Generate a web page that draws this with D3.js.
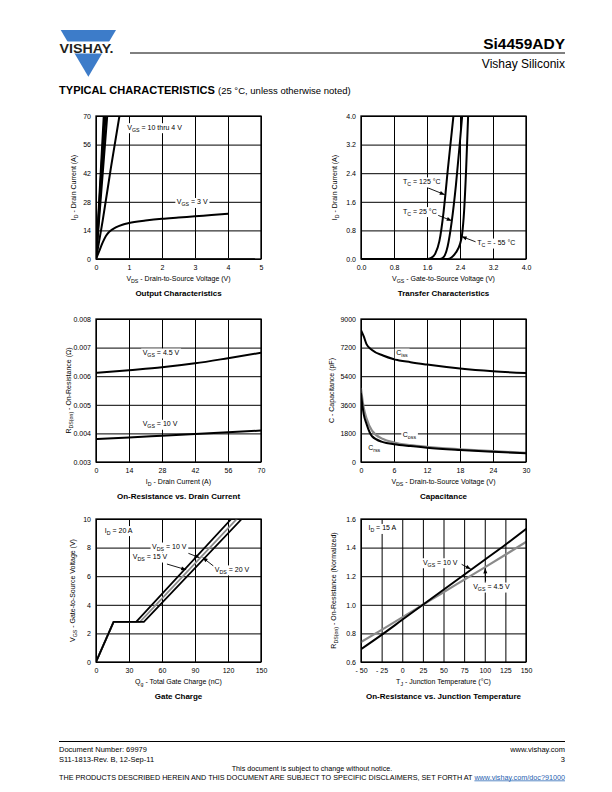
<!DOCTYPE html>
<html><head><meta charset="utf-8">
<script src="https://cdn.jsdelivr.net/npm/d3@7"></script>
<style>body{margin:0;background:#fff} svg text{font-family:"Liberation Sans",Arial,Helvetica,sans-serif}</style>
</head><body><svg id="page" width="612" height="792"></svg>
<script>
// ---------- DATA ----------
// Output characteristics (VDS V, ID A)
const outVgs10 = [[0,0],[0.235,70]];
const outVgs6  = [[0,0],[0.26,70]];
const outVgs5  = [[0,0],[0.29,70]];
const outVgs45 = [[0,0],[0.34,70]];
const outVgs4  = [[0,0],[0.2,18.5],[0.45,44.5],[0.71,70]];
const outVgs3  = [[0,0],[0.1,4],[0.2,8],[0.3,11.3],[0.4,13.3],[0.6,15.5],[0.8,16.8],[1,17.6],[1.5,18.8],[2,19.7],[2.5,20.3],[3,20.9],[3.5,21.5],[4,22.1]];
const outVgs2  = [[0,0],[4.8,0.15]];
const outXTicks = [0,1,2,3,4,5];
const outYTicks = [0,14,28,42,56,70];
// Transfer characteristics (VGS V, ID A)
const trT125 = [[0,0],[1.6,0],[1.7,0.03],[1.8,0.15],[1.9,0.5],[2.0,1.3],[2.05,1.85],[2.1,2.45],[2.2,3.55],[2.25,4.1]];
const trT25  = [[0,0],[1.9,0],[2.0,0.05],[2.1,0.35],[2.2,1.05],[2.3,2.05],[2.4,3.3],[2.46,4.1]];
const trTm55 = [[0,0],[2.1,0],[2.2,0.05],[2.3,0.18],[2.4,0.42],[2.45,0.68],[2.5,1.35],[2.55,2.55],[2.6,4.1]];
const trXTicks = [0,0.8,1.6,2.4,3.2,4.0];
const trYTicks = [0,0.8,1.6,2.4,3.2,4.0];
// On-resistance vs drain current (ID A, RDS Ohm)
const ronVgs45 = [[0.5,0.00612],[14,0.00621],[28,0.00631],[42,0.00645],[56,0.00663],[70,0.00682]];
const ronVgs10 = [[0.5,0.0038],[14,0.00386],[28,0.00392],[42,0.00398],[56,0.00404],[70,0.0041]];
const ronXTicks = [0,14,28,42,56,70];
const ronYTicks = [0.003,0.004,0.005,0.006,0.007,0.008];
// Capacitance (VDS V, C pF)
const capCiss = [[0,8300],[0.5,7900],[1,7420],[2,7050],[4,6700],[6,6470],[9,6280],[12,6130],[18,5880],[24,5710],[30,5600]];
const capCoss = [[0,4600],[0.5,3400],[1,2750],[2,1980],[4,1450],[6,1230],[9,1060],[12,950],[18,800],[24,680],[30,580]];
const capCrss = [[0,4300],[0.5,3000],[1,2400],[2,1620],[4,1250],[6,1120],[9,1000],[12,900],[18,760],[24,650],[30,550]];
const capXTicks = [0,6,12,18,24,30];
const capYTicks = [0,1800,3600,5400,7200,9000];
// Gate charge (Qg nC, VGS V)
const gcVds10 = [[0,0],[16,2.8],[36.5,2.8],[123,10]];
const gcVds15 = [[0,0],[16,2.8],[40,2.8],[128,10]];
const gcVds20 = [[0,0],[16,2.8],[43.5,2.8],[132.5,10]];
const gcXTicks = [0,30,60,90,120,150];
const gcYTicks = [0,2,4,6,8,10];
// On-resistance vs junction temperature (TJ C, normalized)
const rtVgs10 = [[-50,0.69],[-25,0.79],[0,0.895],[25,1.0],[50,1.105],[75,1.21],[100,1.315],[125,1.42],[150,1.53]];
const rtVgs45 = [[-50,0.74],[-25,0.825],[0,0.912],[25,1.0],[50,1.088],[75,1.175],[100,1.262],[125,1.35],[150,1.44]];
const rtXTicks = [-50,-25,0,25,50,75,100,125,150];
const rtYTicks = [0.6,0.8,1.0,1.2,1.4,1.6];

// ---------- DRAWING ----------
const svg = d3.select("#page");
const defs = svg.append("defs");
defs.append("marker").attr("id","arr").attr("viewBox","0 0 10 10").attr("refX",10).attr("refY",5)
  .attr("markerWidth",6).attr("markerHeight",5).attr("orient","auto").attr("markerUnits","userSpaceOnUse")
  .append("path").attr("d","M0,1 L10,5 L0,9 Z").attr("fill","#000");

function rich(g, x, y, parts, o = {}) {
  const size = o.size || 7;
  const t = g.append("text").attr("x", x).attr("y", y).attr("font-size", size)
    .attr("text-anchor", o.anchor || "start").attr("fill", o.fill || "#000");
  if (o.weight) t.attr("font-weight", o.weight);
  if (o.rotate) t.attr("transform", `rotate(-90,${x},${y})`);
  let shift = 0;
  parts.forEach(p => {
    const sub = Array.isArray(p);
    const ts = t.append("tspan").text(sub ? p[0] : p);
    const want = sub ? 2 : 0;
    if (want !== shift) { ts.attr("dy", want - shift); shift = want; }
    if (sub) ts.attr("font-size", size * 0.75);
  });
  return t;
}
function withBg(g, t, pad = 1.5) {
  const b = t.node().getBBox();
  g.insert("rect", function(){ return t.node(); })
    .attr("x", b.x - pad).attr("y", b.y - 0.5).attr("width", b.width + 2 * pad).attr("height", b.height + 1)
    .attr("fill", "#fff");
}

let clipId = 0;
function chart(cfg) {
  const { left, top } = cfg;
  const w = 165, h = 143;
  const g = svg.append("g");
  const x = d3.scaleLinear().domain(cfg.xDomain).range([left, left + w]);
  const y = d3.scaleLinear().domain(cfg.yDomain).range([top + h, top]);
  const style = a => {
    a.select(".domain").remove();
    a.selectAll("line").attr("stroke", "#000").attr("stroke-width", 1);
    a.selectAll("text").attr("font-size", 7).attr("fill", "#000")
      .attr("font-family", "Liberation Sans, Arial, sans-serif");
  };
  g.append("g").attr("transform", `translate(0,${top + h})`)
    .call(d3.axisBottom(x).tickValues(cfg.xTicks).tickSize(-h).tickPadding(6).tickFormat(cfg.xFmt)).call(style);
  g.append("g").attr("transform", `translate(${left},0)`)
    .call(d3.axisLeft(y).tickValues(cfg.yTicks).tickSize(-w).tickPadding(5).tickFormat(cfg.yFmt)).call(style);

  const id = "clip" + (clipId++);
  defs.append("clipPath").attr("id", id).append("rect")
    .attr("x", left).attr("y", top).attr("width", w).attr("height", h);
  const sg = g.append("g").attr("clip-path", `url(#${id})`);
  cfg.series.forEach(s => {
    const line = d3.line().x(d => x(d[0])).y(d => y(d[1])).curve(s.curve || d3.curveMonotoneX);
    sg.append("path").datum(s.data).attr("d", line).attr("fill", "none")
      .attr("stroke", s.color || "#000").attr("stroke-width", s.width || 2)
      .attr("stroke-linejoin", "round").attr("stroke-linecap", "round");
  });
  g.append("rect").attr("x", left).attr("y", top).attr("width", w).attr("height", h)
    .attr("fill", "none").attr("stroke", "#000").attr("stroke-width", 1.3);

  (cfg.notes || []).forEach(n => {
    if (n.arrow) {
      g.append("line").attr("x1", x(n.arrow[0])).attr("y1", y(n.arrow[1]))
        .attr("x2", x(n.arrow[2])).attr("y2", y(n.arrow[3]))
        .attr("stroke", "#000").attr("stroke-width", 0.9).attr("marker-end", "url(#arr)");
    }
    const t = rich(g, x(n.at[0]), y(n.at[1]), n.parts, { size: 7 });
    withBg(g, t);
  });

  rich(g, left + w / 2, top + h + 22, cfg.xLabel, { anchor: "middle", size: 7 });
  rich(g, left - cfg.yOff, top + h / 2, cfg.yLabel, { anchor: "middle", size: 7, rotate: true });
  g.append("text").attr("x", left + w / 2).attr("y", top + h + 37).attr("text-anchor", "middle")
    .attr("font-size", 8).attr("font-weight", "bold").text(cfg.title);
}

const fd = d3.format("d"), f1 = d3.format(".1f"), f3 = d3.format(".3f");
const L = 96, R = 361;

chart({ left: L, top: 116, xDomain: [0,5], yDomain: [0,70], xTicks: outXTicks, yTicks: outYTicks,
  xFmt: fd, yFmt: fd, yOff: 20, title: "Output Characteristics",
  xLabel: ["V", ["DS"], " - Drain-to-Source Voltage (V)"], yLabel: ["I", ["D"], " - Drain Current (A)"],
  series: [
    { data: outVgs10, curve: d3.curveLinear }, { data: outVgs6, curve: d3.curveLinear },
    { data: outVgs5, curve: d3.curveLinear }, { data: outVgs45, curve: d3.curveLinear },
    { data: outVgs4 }, { data: outVgs3 }, { data: outVgs2, curve: d3.curveLinear, color: "#555", width: 1.6 }
  ],
  notes: [
    { at: [0.95, 63.3], parts: ["V", ["GS"], " = 10 thru 4 V"] },
    { at: [2.45, 26.7], parts: ["V", ["GS"], " = 3 V"] }
  ]
});

chart({ left: R, top: 116, xDomain: [0,4], yDomain: [0,4], xTicks: trXTicks, yTicks: trYTicks,
  xFmt: f1, yFmt: f1, yOff: 24, title: "Transfer Characteristics",
  xLabel: ["V", ["GS"], " - Gate-to-Source Voltage (V)"], yLabel: ["I", ["D"], " - Drain Current (A)"],
  series: [{ data: trT125 }, { data: trT25 }, { data: trTm55 }],
  notes: [
    { at: [1.02, 2.1], parts: ["T", ["C"], " = 125 °C"], arrow: [1.6, 2.0, 2.03, 1.8] },
    { at: [1.02, 1.27], parts: ["T", ["C"], " = 25 °C"], arrow: [1.85, 1.23, 2.2, 1.07] },
    { at: [2.82, 0.39], parts: ["T", ["C"], " = - 55 °C"], arrow: [2.78, 0.48, 2.44, 0.63] }
  ]
});

chart({ left: L, top: 319, xDomain: [0,70], yDomain: [0.003,0.008], xTicks: ronXTicks, yTicks: ronYTicks,
  xFmt: fd, yFmt: f3, yOff: 25, title: "On-Resistance vs. Drain Current",
  xLabel: ["I", ["D"], " - Drain Current (A)"], yLabel: ["R", ["DS(on)"], " - On-Resistance (Ω)"],
  series: [{ data: ronVgs45 }, { data: ronVgs10 }],
  notes: [
    { at: [19.8, 0.00674], parts: ["V", ["GS"], " = 4.5 V"] },
    { at: [19.8, 0.00425], parts: ["V", ["GS"], " = 10 V"] }
  ]
});

chart({ left: R, top: 319, xDomain: [0,30], yDomain: [0,9000], xTicks: capXTicks, yTicks: capYTicks,
  xFmt: fd, yFmt: fd, yOff: 27, title: "Capacitance",
  xLabel: ["V", ["DS"], " - Drain-to-Source Voltage (V)"], yLabel: ["C - Capacitance (pF)"],
  series: [{ data: capCiss }, { data: capCoss, color: "#8a8a8a", width: 2.2 }, { data: capCrss }],
  notes: [
    { at: [6.4, 6730], parts: ["C", ["iss"]] },
    { at: [7.6, 1600], parts: ["C", ["oss"]] },
    { at: [1.3, 760], parts: ["C", ["rss"]] }
  ]
});

chart({ left: L, top: 519, xDomain: [0,150], yDomain: [0,10], xTicks: gcXTicks, yTicks: gcYTicks,
  xFmt: fd, yFmt: fd, yOff: 21, title: "Gate Charge",
  xLabel: ["Q", ["g"], " - Total Gate Charge (nC)"], yLabel: ["V", ["GS"], " - Gate-to-Source Voltage (V)"],
  series: [
    { data: gcVds10, curve: d3.curveLinear, width: 1.8 },
    { data: gcVds15, curve: d3.curveLinear, color: "#8a8a8a", width: 1.8 },
    { data: gcVds20, curve: d3.curveLinear, width: 1.8 }
  ],
  notes: [
    { at: [8, 9.05], parts: ["I", ["D"], " = 20 A"] },
    { at: [51, 7.9], parts: ["V", ["DS"], " = 10 V"], arrow: [84, 7.6, 94, 7.3] },
    { at: [33.5, 7.2], parts: ["V", ["DS"], " = 15 V"], arrow: [64.5, 6.85, 82, 6.45] },
    { at: [108, 6.3], parts: ["V", ["DS"], " = 20 V"], arrow: [107, 6.7, 97, 7.3] }
  ]
});

chart({ left: R, top: 519, xDomain: [-50,150], yDomain: [0.6,1.6], xTicks: rtXTicks, yTicks: rtYTicks,
  xFmt: d => d < 0 ? "- " + Math.abs(d) : String(d), yFmt: f1, yOff: 25,
  title: "On-Resistance vs. Junction Temperature",
  xLabel: ["T", ["J"], " - Junction Temperature (°C)"], yLabel: ["R", ["DS(on)"], " - On-Resistance (Normalized)"],
  series: [{ data: rtVgs45, color: "#8a8a8a", width: 2.2 }, { data: rtVgs10 }],
  notes: [
    { at: [-41, 1.52], parts: ["I", ["D"], " = 15 A"] },
    { at: [25, 1.28], parts: ["V", ["GS"], " = 10 V"], arrow: [72, 1.283, 83, 1.25] },
    { at: [86, 1.11], parts: ["V", ["GS"], " = 4.5 V"], arrow: [101, 1.165, 100.5, 1.255] }
  ]
});

// ---------- HEADER ----------
const hdr = svg.append("g");
hdr.append("path").attr("d", "M60.7,30 L116,30 L88.35,76.7 Z").attr("fill", "#3d7cc9");
hdr.append("rect").attr("x", 55).attr("y", 41.5).attr("width", 66).attr("height", 12).attr("fill", "#fff");
hdr.append("text").attr("x", 59.5).attr("y", 53).attr("font-size", 12.5).attr("font-weight", "bold")
  .attr("fill", "#231f20").attr("textLength", 54).attr("lengthAdjust", "spacingAndGlyphs").text("VISHAY.");
hdr.append("line").attr("x1", 130).attr("x2", 565).attr("y1", 53).attr("y2", 53).attr("stroke", "#000").attr("stroke-width", 1);
hdr.append("text").attr("x", 565).attr("y", 49).attr("text-anchor", "end").attr("font-size", 15.5)
  .attr("font-weight", "bold").text("Si4459ADY");
hdr.append("text").attr("x", 565).attr("y", 68).attr("text-anchor", "end").attr("font-size", 12).text("Vishay Siliconix");
hdr.append("text").attr("x", 59).attr("y", 94).attr("font-size", 10.5).attr("font-weight", "bold")
  .attr("textLength", 156).attr("lengthAdjust", "spacingAndGlyphs").text("TYPICAL CHARACTERISTICS");
hdr.append("text").attr("x", 218).attr("y", 94).attr("font-size", 9.5).text("(25 °C, unless otherwise noted)");

// ---------- FOOTER ----------
const ft = svg.append("g").attr("font-size", 7.5);
ft.append("line").attr("x1", 59).attr("x2", 565).attr("y1", 741.5).attr("y2", 741.5).attr("stroke", "#000").attr("stroke-width", 1);
ft.append("text").attr("x", 59).attr("y", 752).attr("font-size", 7.5).text("Document Number: 69979");
ft.append("text").attr("x", 59).attr("y", 761.5).attr("font-size", 7.5).text("S11-1813-Rev. B, 12-Sep-11");
ft.append("text").attr("x", 565).attr("y", 752).attr("font-size", 7.5).attr("text-anchor", "end").text("www.vishay.com");
ft.append("text").attr("x", 565).attr("y", 761.5).attr("font-size", 7.5).attr("text-anchor", "end").text("3");
ft.append("text").attr("x", 312).attr("y", 770.5).attr("font-size", 7.2).attr("text-anchor", "middle")
  .text("This document is subject to change without notice.");
const disc = ft.append("text").attr("x", 59).attr("y", 779.5).attr("font-size", 7.2)
  .attr("textLength", 506).attr("lengthAdjust", "spacingAndGlyphs");
disc.append("tspan").text("THE PRODUCTS DESCRIBED HEREIN AND THIS DOCUMENT ARE SUBJECT TO SPECIFIC DISCLAIMERS, SET FORTH AT ");
disc.append("tspan").attr("fill", "#1f5fb0").attr("text-decoration", "underline").text("www.vishay.com/doc?91000");
</script>
</body></html>
